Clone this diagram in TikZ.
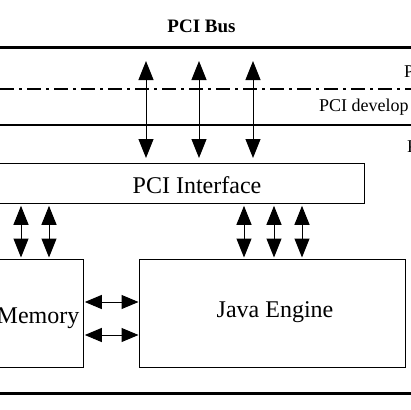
\documentclass[tikz,border=0pt]{standalone}
\usepackage{fontspec}
\setmainfont{Liberation Serif}
\usetikzlibrary{arrows.meta}
\begin{document}
\begin{tikzpicture}[x=1pt,y=-1pt,
 box/.style={draw,line width=1.3pt,inner sep=0pt,anchor=north west},
 big/.style={font=\fontsize{24}{26}\selectfont,inner sep=0pt,anchor=base},
 lbl/.style={font=\fontsize{18}{20}\selectfont,inner sep=0pt,anchor=base west},
 dbl/.style={line width=1pt,{Triangle[length=19pt,width=15pt]}-{Triangle[length=19pt,width=15pt]}},
 hdbl/.style={line width=1pt,{Triangle[length=17pt,width=14pt]}-{Triangle[length=17pt,width=14pt]}},
 thickline/.style={line width=3pt},
 midline/.style={line width=2pt}]
\useasboundingbox (0,0) rectangle (410,410);
% title
\node[inner sep=0pt,anchor=base,font=\bfseries\fontsize{19}{21}\selectfont] (title) at (201.5,32) {PCI Bus};
% horizontal lines
\coordinate (l1) at (-5,47);  \coordinate (r1) at (415,47);
\coordinate (l2) at (0,89);   \coordinate (r2) at (415,89);
\coordinate (l3) at (-5,125); \coordinate (r3) at (415,125);
\coordinate (l4) at (-5,393); \coordinate (r4) at (415,393);
\draw[thickline] (l1) -- (r1);
\draw[midline,dash pattern=on 14pt off 5pt on 3pt off 5pt] (l2) -- (r2);
\draw[midline] (l3) -- (r3);
\draw[thickline] (l4) -- (r4);
% side labels (clipped by the page, as in the reference)
\node[lbl] (sideA) at (404,77) {P};
\node[lbl] (sideB) at (319,111) {PCI develop};
\node[lbl] (sideC) at (407,152) {P};
% boxes
\node[box,minimum width=374pt,minimum height=40pt] (pci) at (-10,163) {};
\node[big] (pcit) at (197,193) {PCI Interface};
\node[box,minimum width=89pt,minimum height=108pt] (mem) at (-6,259) {};
\node[big] (memt) at (38,323) {Memory};
\node[box,minimum width=266pt,minimum height=108pt] (java) at (139,259) {};
\node[big] (javat) at (275,317) {Java Engine};
% top vertical arrows
\foreach \i/\x in {1/146,2/199,3/253}{
  \coordinate (t\i) at (\x,61);
  \draw[dbl,shorten >=5pt] (t\i) -- (pci.north -| t\i);
}
% lower vertical arrows
\foreach \i/\x in {1/21,2/49}{
  \coordinate (m\i) at (\x,0);
  \draw[dbl,shorten >=1.5pt,shorten <=1.5pt] (pci.south -| m\i) -- (mem.north -| m\i);
}
\foreach \i/\x in {1/244,2/274,3/302}{
  \coordinate (j\i) at (\x,0);
  \draw[dbl,shorten >=1.5pt,shorten <=1.5pt] (pci.south -| j\i) -- (java.north -| j\i);
}
% horizontal arrows
\foreach \i/\y in {1/302,2/335}{
  \coordinate (h\i) at (0,\y);
  \draw[hdbl,shorten >=0.5pt,shorten <=0.5pt] (mem.east |- h\i) -- (java.west |- h\i);
}
\end{tikzpicture}
\end{document}
